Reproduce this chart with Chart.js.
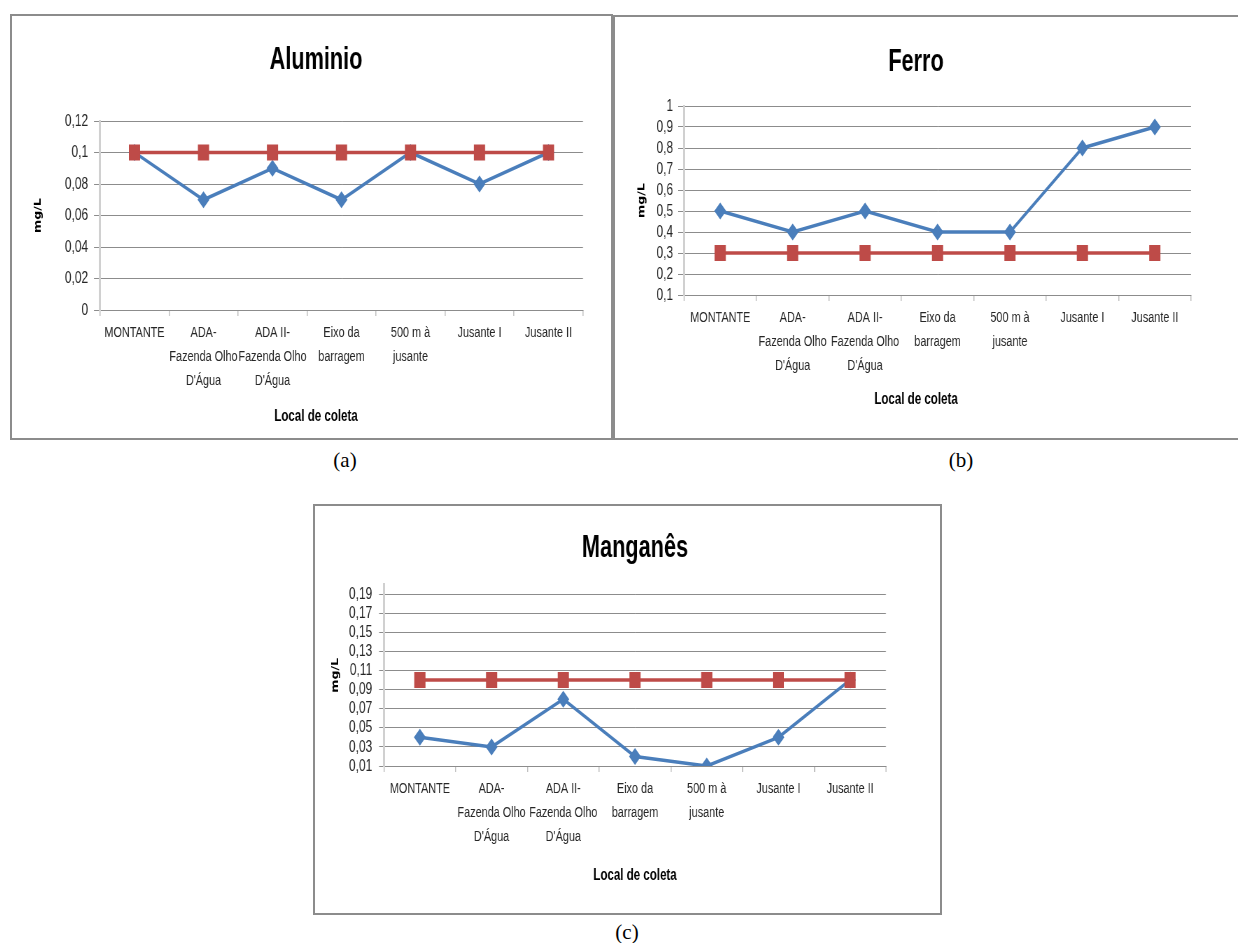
<!DOCTYPE html>
<html>
<head>
<meta charset="utf-8">
<script src="https://cdn.jsdelivr.net/npm/chart.js@4.4.0/dist/chart.umd.min.js"></script>
<style>
body{margin:0;background:#fff;width:1238px;height:943px;overflow:hidden;position:relative}
.box{position:absolute;border:2px solid #8c8c8c;box-sizing:border-box;background:#fff;overflow:hidden}
.box canvas{position:absolute;left:0;top:0;transform:scaleX(0.7);transform-origin:0 0}
.cap{position:absolute;font-family:'Liberation Serif','Times New Roman',serif;font-size:21px;line-height:24px;color:#000;transform:translateX(-50%)}
</style>
</head>
<body>
<div class="box" style="left:10px;top:14px;width:603px;height:426px"><canvas id="aluminio" width="856" height="422"></canvas></div>
<div class="box" style="left:613px;top:15px;width:642px;height:425px"><canvas id="ferro" width="893" height="421"></canvas></div>
<div class="box" style="left:313px;top:504px;width:629px;height:411px"><canvas id="manganes" width="893" height="407"></canvas></div>
<div class="cap" style="left:345px;top:448px">(a)</div>
<div class="cap" style="left:961px;top:448px">(b)</div>
<div class="cap" style="left:627px;top:920px">(c)</div>
<script>
// dados
const locais=[["MONTANTE"],["ADA-","Fazenda Olho","D'Água"],["ADA II-","Fazenda Olho","D'Água"],["Eixo da","barragem"],["500 m à","jusante"],["Jusante I"],["Jusante II"]];
const aluminio=[0.1,0.07,0.09,0.07,0.1,0.08,0.1];
const aluminioLimite=[0.1,0.1,0.1,0.1,0.1,0.1,0.1];
const ferro=[0.5,0.4,0.5,0.4,0.4,0.8,0.9];
const ferroLimite=[0.3,0.3,0.3,0.3,0.3,0.3,0.3];
const manganes=[0.04,0.03,0.08,0.02,0.01,0.04,0.1];
const manganesLimite=[0.1,0.1,0.1,0.1,0.1,0.1,0.1];
const ticksAluminio=[0,0.02,0.04,0.06,0.08,0.1,0.12];
const ticksFerro=[0.1,0.2,0.3,0.4,0.5,0.6,0.7,0.8,0.9,1];
const ticksManganes=[0.01,0.03,0.05,0.07,0.09,0.11,0.13,0.15,0.17,0.19];

// o canvas é desenhado mais largo e comprimido em x (scaleX 0.7) como na figura original
const fonte="'Liberation Sans',Arial,sans-serif";
const azul='#4a7ebb';
const vermelho='#be4b48';

function virgula(v){
    return String(+(+v).toFixed(2)).replace('.',',');
}

function makeChart(id,titulo,valores,limites,ticks,min,max,g){
    return new Chart(document.getElementById(id),{
        type:'line',
        data:{
            labels:locais,
            datasets:[
                {data:limites,borderColor:vermelho,backgroundColor:vermelho,pointStyle:'rect',pointRadius:11.3,pointBorderWidth:0,borderWidth:3.5,tension:0,order:0},
                {data:valores,borderColor:azul,backgroundColor:azul,pointStyle:'rectRot',pointRadius:8.5,pointBorderWidth:0,borderWidth:3.5,tension:0,order:1}
            ]
        },
        options:{
            responsive:false,
            animation:false,
            layout:{padding:g.pad},
            plugins:{
                legend:{display:false},
                tooltip:{enabled:false},
                title:{display:true,text:titulo,fullSize:g.fullSize,color:'#000',
                    font:{family:fonte,size:31,weight:'bold'},padding:{top:g.tTop,bottom:g.tBot}},
                subtitle:{display:true,text:'Local de coleta',position:'bottom',fullSize:g.fullSize,color:'#000',
                    font:{family:fonte,size:16.5,weight:'bold'},padding:{top:g.sTop,bottom:4}}
            },
            scales:{
                x:{
                    offset:true,
                    grid:{offset:true,drawOnChartArea:false,tickLength:6,color:'#bfbfbf',lineWidth:1.5},
                    border:{color:'#8c8c8c'},
                    ticks:{color:'#262626',padding:5,maxRotation:0,autoSkip:false,
                        font:{family:fonte,size:15.5,lineHeight:'24px'}},
                    afterFit:s=>{s.height=90;}
                },
                y:{
                    min:min,max:max,
                    afterBuildTicks:s=>{s.ticks=ticks.map(v=>({value:v}));},
                    grid:{color:'#8c8c8c',tickLength:g.yTick},
                    border:{color:'#d0d0d0',width:3},
                    ticks:{color:'#262626',padding:g.yPad,autoSkip:false,callback:v=>virgula(v),
                        font:{family:fonte,size:17}},
                    title:{display:true,text:'mg/L',color:'#000',
                        font:{family:"'DejaVu Sans Condensed','DejaVu Sans',sans-serif",size:14,weight:'bold'},padding:{top:g.yTitlePad,bottom:0}},
                    afterFit:s=>{s.width=g.yW;}
                }
            }
        }
    });
}

makeChart('aluminio','Aluminio',aluminio,aluminioLimite,ticksAluminio,0,0.12,
    {pad:{left:52.9,right:40.3,top:10,bottom:8.1},fullSize:true,tTop:15.4,tBot:42.4,sTop:6.1,yW:72.8,yTick:8.6,yPad:8.5,yTitlePad:-24.2});
makeChart('ferro','Ferro',ferro,ferroLimite,ticksFerro,0.1,1,
    {pad:{left:37.1,right:70.1,top:10,bottom:24.8},fullSize:true,tTop:16.4,tBot:25.4,sTop:4.4,yW:61.5,yTick:8.6,yPad:7.1,yTitlePad:-6.9});
makeChart('manganes','Manganês',manganes,manganesLimite,ticksManganes,0.01,0.2,
    {pad:{left:14,right:77.3,top:10,bottom:24.1},fullSize:false,tTop:13.4,tBot:17.9,sTop:9.1,yW:84.6,yTick:7,yPad:10,yTitlePad:6.9});
</script>
</body>
</html>
